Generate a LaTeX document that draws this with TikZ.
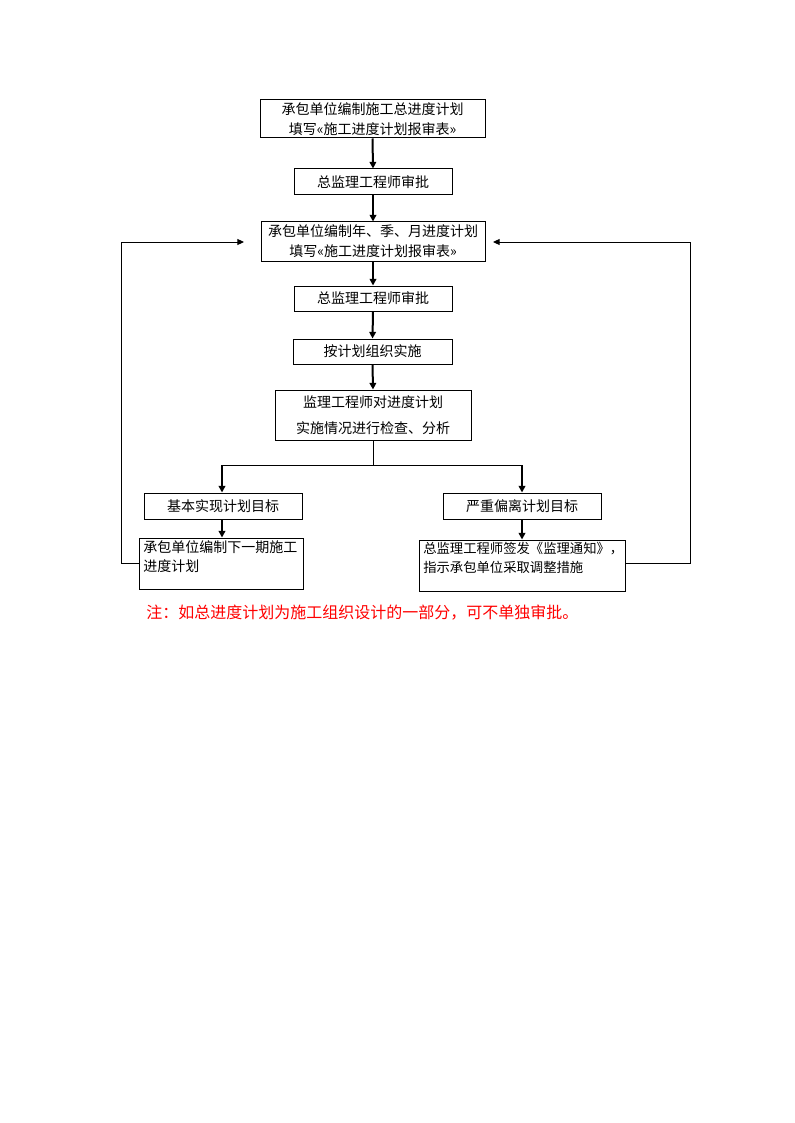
\documentclass[tikz,border=0pt]{standalone}
\usepackage{fontspec}
\setmainfont{Noto Sans CJK SC}
\usetikzlibrary{arrows.meta}
\tikzset{
  box/.style={draw, line width=0.75pt, inner sep=0pt, align=center,
    font=\fontsize{10.5pt}{15pt}\selectfont},
  txt/.style={inner sep=0pt, align=left, anchor=north west,
    font=\fontsize{10.5pt}{14.5pt}\selectfont},
  thickarrow/.style={line width=1.5pt, -{Triangle[length=5pt,width=5pt]}},
  thinline/.style={line width=0.75pt},
  thinarrow/.style={line width=0.75pt, -{Triangle[length=5pt,width=4.5pt]}}
}
\begin{document}
\begin{tikzpicture}[x=0.75pt,y=-0.75pt]
\useasboundingbox (0,0) rectangle (794,1123);
\node[box, minimum width=168.75pt, minimum height=28.5pt] (b1) at (372.5,119)
  {承包单位编制施工总进度计划\\填写«施工进度计划报审表»};
\node[box, minimum width=118.5pt, minimum height=19.5pt] (b2) at (373,182) {总监理工程师审批};
\node[box, minimum width=168pt, minimum height=29.25pt] (b3) at (373,241.5)
  {承包单位编制年、季、月进度计划\\填写«施工进度计划报审表»};
\node[box, minimum width=118.5pt, minimum height=18.75pt] (b4) at (373,298.5) {总监理工程师审批};
\node[box, minimum width=119.25pt, minimum height=18.75pt] (b5) at (372.5,351.5) {按计划组织实施};
\node[box, minimum width=147pt, minimum height=37.5pt] (b6) at (373,415)
  {监理工程师对进度计划\\[5pt]实施情况进行检查、分析};
\node[box, minimum width=118.5pt, minimum height=19.5pt] (b7) at (223,506) {基本实现计划目标};
\node[box, minimum width=118.5pt, minimum height=19.5pt] (b8) at (522,506) {严重偏离计划目标};
\node[box, minimum width=123pt, minimum height=38.25pt] (b9) at (221,563.5) {};
\node[txt] (t9) at (143,540) {承包单位编制下一期施工\\进度计划};
\node[box, minimum width=154.5pt, minimum height=38.25pt] (b10) at (522,565.5) {};
\node[txt, font=\fontsize{10pt}{14.5pt}\selectfont] (t10) at (423,542)
  {总监理工程师签发《监理通知》，\\指示承包单位采取调整措施};
\node[inner sep=0pt, anchor=west, text=red, font=\fontsize{12pt}{14pt}\selectfont] (note) at (146,613)
  {注：如总进度计划为施工组织设计的一部分，可不单独审批。};

\coordinate (sp) at (373,465);
\coordinate (jl) at (222,465);
\coordinate (jr) at (522,465);
\coordinate (fl) at (244,242);
\coordinate (fr) at (493,242);

\draw[thickarrow] (b1.south) -- (b2.north);
\draw[thickarrow] (b2.south) -- (b3.north);
\draw[thickarrow] (b3.south) -- (b4.north);
\draw[thickarrow] (b4.south) -- (b5.north);
\draw[thickarrow] (b5.south) -- (b6.north);
\draw[thinline] (b6.south) -- (sp);
\draw[thinline] (jl) -- (jr);
\draw[thickarrow] (jl) -- (jl |- b7.north);
\draw[thickarrow] (jr) -- (jr |- b8.north);
\draw[thickarrow] (b7.south -| jl) -- (jl |- b9.north);
\draw[thickarrow] (b8.south -| jr) -- (jr |- b10.north);
\draw[thinarrow] (b9.west |- 0,563) -- (121,563) -- (121,242) -- (fl);
\draw[thinarrow] (b10.east |- 0,563) -- (690,563) -- (690,242) -- (fr);
\end{tikzpicture}
\end{document}
